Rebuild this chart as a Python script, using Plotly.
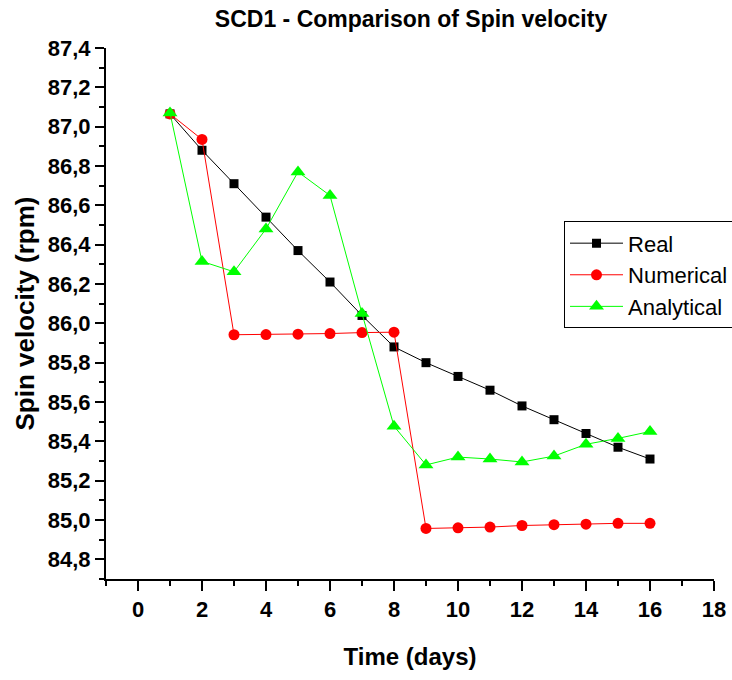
import plotly.graph_objects as go

# Spin velocity of SCD1 over 16 days
days = list(range(1, 17))
real = [87.065, 86.88, 86.71, 86.54, 86.37, 86.21, 86.04, 85.88,
        85.80, 85.73, 85.66, 85.58, 85.51, 85.44, 85.37, 85.31]
numerical = [87.065, 86.935, 85.942, 85.943, 85.945, 85.948, 85.953, 85.955,
             84.957, 84.960, 84.964, 84.972, 84.976, 84.979, 84.983, 84.983]
analytical = [87.07, 86.315, 86.262, 86.48, 86.77, 86.65, 86.05, 85.477,
              85.28, 85.32, 85.31, 85.295, 85.325, 85.385, 85.415, 85.45]

FONT = "Liberation Sans, Arial, sans-serif"

fig = go.Figure()
fig.add_trace(go.Scatter(
    x=days, y=real, name="Real", mode="lines+markers",
    line=dict(color="#000000", width=1),
    marker=dict(symbol="square", size=9, color="#000000"),
))
fig.add_trace(go.Scatter(
    x=days, y=numerical, name="Numerical", mode="lines+markers",
    line=dict(color="#ff0000", width=1),
    marker=dict(symbol="circle", size=11, color="#ff0000"),
))
fig.add_trace(go.Scatter(
    x=days, y=analytical, name="Analytical", mode="lines+markers",
    line=dict(color="#00ff00", width=1),
    marker=dict(symbol="triangle-up", size=13, color="#00ff00"),
))

fig.update_layout(
    width=732, height=680,
    margin=dict(l=106, r=18, t=48, b=101, autoexpand=False),
    paper_bgcolor="white", plot_bgcolor="white",
    separators=",.",
    font=dict(family=FONT, color="black"),
    title=dict(
        text="<b>SCD1 - Comparison of Spin velocity</b>",
        font=dict(size=23, family=FONT, color="black"),
        x=0.5615, xanchor="center", xref="container",
        y=1 - 19 / 680, yanchor="middle", yref="container",
    ),
    showlegend=True,
    legend=dict(
        x=0.7533, xanchor="left", y=0.6735, yanchor="top",
        bgcolor="white", bordercolor="black", borderwidth=1,
        font=dict(size=22, family=FONT, color="black"),
        tracegroupgap=0, itemwidth=53,
    ),
)

fig.update_xaxes(
    range=[-1, 18], tick0=0, dtick=2,
    showgrid=False, zeroline=False,
    showline=True, linewidth=2, linecolor="black",
    ticks="outside", ticklen=10, tickwidth=2, tickcolor="black",
    minor=dict(ticks="outside", ticklen=5, tickwidth=2, tickcolor="black",
               dtick=1, tick0=-1, showgrid=False),
    tickfont=dict(size=22, family=FONT, color="black"),
    tickprefix="<b>", ticksuffix="</b>",
    title=dict(text="<b>Time (days)</b>", font=dict(size=24, family=FONT, color="black"),
               standoff=27),
)
fig.update_yaxes(
    range=[84.7, 87.4], tick0=84.8, dtick=0.2, tickformat=".1f",
    showgrid=False, zeroline=False,
    showline=True, linewidth=2, linecolor="black",
    ticks="outside", ticklen=9, tickwidth=2, tickcolor="black",
    minor=dict(ticks="outside", ticklen=5, tickwidth=2, tickcolor="black",
               dtick=0.1, tick0=84.7, showgrid=False),
    tickfont=dict(size=22, family=FONT, color="black"),
    tickprefix="<b>", ticksuffix="</b>",
    title=dict(text="<b>Spin velocity (rpm)</b>", font=dict(size=26, family=FONT, color="black"),
               standoff=6),
)

fig.write_html("out.html")
